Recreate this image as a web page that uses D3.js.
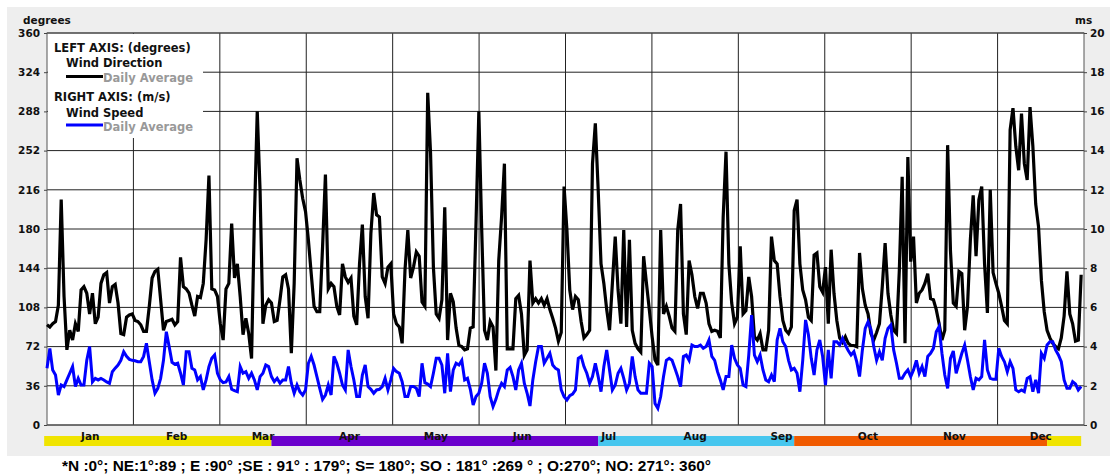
<!DOCTYPE html>
<html>
<head>
<meta charset="utf-8">
<script src="https://d3js.org/d3.v7.min.js"></script>
<style>
  body { margin: 0; background: #fff; }
  text { font-family: "DejaVu Sans", Verdana, sans-serif; font-weight: bold; }
</style>
</head>
<body>
<div id="chart"></div>
<script>
// ---- data ----
const months = ['Jan','Feb','Mar','Apr','May','Jun','Jul','Aug','Sep','Oct','Nov','Dec'];
const dirTicks = [0,36,72,108,144,180,216,252,288,324,360];
const speedTicks = [0,2,4,6,8,10,12,14,16,18,20];

// daily average wind direction (degrees), day 0 = 1 Jan
const direction = [
  92,90,93,95,110,207,118,69,87,78,93,86,124,127,121,102,121,93,99,130,
  138,140,112,127,129,112,84,83,99,101,102,96,95,92,86,86,109,135,141,143,
  115,87,95,96,97,92,95,154,127,125,121,110,100,118,117,130,170,229,125,124,
  118,93,78,125,130,185,135,148,118,83,98,84,61,190,288,215,93,110,115,112,
  95,96,115,136,138,125,66,130,245,225,208,196,170,139,109,104,104,164,230,125,
  130,127,109,101,148,136,131,135,100,92,148,184,118,98,176,213,193,191,136,130,
  145,148,102,93,90,75,142,179,135,145,159,155,113,109,305,250,145,102,98,115,
  200,78,121,113,89,73,72,69,70,89,90,185,288,180,87,78,95,90,50,151,
  191,240,70,70,70,116,119,102,64,69,151,112,116,112,116,110,116,106,98,89,
  77,85,219,179,124,106,118,115,95,80,83,87,240,277,216,148,130,106,87,130,
  173,124,93,179,90,170,87,75,70,67,155,130,106,81,60,55,179,102,109,100,
  89,86,179,203,102,83,151,138,118,107,121,121,112,93,86,87,86,80,191,251,
  148,112,93,99,164,102,105,136,118,81,78,84,69,69,87,173,151,148,118,96,
  87,84,90,197,207,148,124,115,99,96,156,158,127,122,145,93,161,121,96,80,
  76,81,75,73,73,72,158,125,110,102,84,78,85,93,127,167,121,101,87,84,
  142,228,75,246,150,173,112,121,124,130,139,116,115,106,93,78,87,257,160,112,
  109,141,139,87,109,170,211,155,207,219,148,103,216,140,130,121,109,96,93,271,
  291,256,234,286,240,225,292,256,203,182,133,104,87,80,75,72,70,80,100,141,
  102,93,77,78,138
];

// daily average wind speed (m/s)
const speed = [
  2.9,3.9,2.8,2.55,1.53,2.04,1.96,2.3,2.64,2.98,1.96,2.38,2.04,2.04,3.3,4.0,2.2,2.38,2.3,2.38,
  2.3,2.2,2.13,2.72,2.9,3.06,3.3,3.74,3.5,3.35,3.3,3.28,3.23,3.23,3.5,4.17,3.23,2.3,1.62,1.87,
  2.38,3.3,4.76,4.0,3.2,3.1,3.15,2.64,2.04,3.74,3.74,2.89,2.81,2.3,2.47,1.79,2.3,2.98,3.4,3.57,
  2.64,2.3,2.16,2.2,2.47,1.82,1.75,1.7,2.98,2.64,2.72,2.38,2.64,2.3,1.79,2.47,2.64,3.06,2.98,2.47,
  2.21,2.38,2.13,2.3,2.3,2.98,2.13,1.62,2.04,1.7,1.53,1.79,3.15,3.5,3.06,2.47,1.87,1.31,1.53,2.04,
  1.53,3.5,3.15,2.64,2.04,1.79,3.83,2.98,2.3,1.45,1.45,2.55,3.06,1.96,1.82,1.62,1.79,1.82,1.96,2.38,
  1.79,2.3,2.89,2.72,2.64,2.21,1.45,1.45,1.96,1.96,1.87,1.45,3.15,2.16,2.09,1.96,2.64,3.4,3.4,3.06,
  1.62,3.66,1.7,2.81,3.15,3.06,3.3,2.3,2.38,1.82,1.02,1.45,1.62,2.13,3.15,2.64,1.45,0.94,1.31,1.79,
  2.13,1.96,2.81,2.94,2.47,1.79,2.81,3.15,2.13,1.62,0.97,2.3,3.23,4.0,4.0,3.15,3.4,3.66,3.06,2.89,
  2.81,1.79,1.45,1.28,1.5,1.58,1.79,3.4,3.5,2.98,2.64,2.13,2.47,3.15,2.47,1.7,2.98,3.83,2.81,1.79,
  2.04,2.64,2.89,2.38,1.79,2.13,3.5,2.47,1.79,1.62,1.62,1.62,3.15,2.98,1.1,0.85,1.45,2.47,3.3,3.4,
  3.3,2.89,2.47,1.96,3.5,3.57,3.3,4.08,4.0,4.0,4.08,3.91,4.0,4.34,3.5,3.3,2.72,2.3,1.79,2.47,
  2.47,4.08,3.4,3.06,2.89,2.04,1.96,3.57,5.61,3.57,3.23,3.57,2.81,2.3,2.21,2.55,2.21,4.34,4.93,4.25,
  4.0,3.3,2.81,2.89,2.64,1.7,3.3,5.36,4.6,3.4,2.55,3.83,4.34,3.5,2.04,3.83,2.38,4.25,4.25,4.08,
  4.42,4.08,3.8,3.57,3.74,3.23,2.47,3.83,4.93,5.27,4.88,4.0,3.3,3.74,3.3,4.42,4.93,5.1,3.83,3.15,
  2.38,2.38,2.64,2.81,2.47,2.81,3.3,2.64,2.98,2.47,3.5,3.66,3.91,4.76,5.02,3.66,2.55,1.87,3.4,3.78,
  2.64,3.15,3.66,4.08,3.3,2.47,1.79,2.38,2.3,2.47,4.34,2.81,2.38,2.33,2.33,3.91,3.5,3.23,2.72,3.23,
  2.89,1.79,1.7,1.79,1.7,2.38,2.47,1.7,2.3,1.62,3.66,3.4,4.08,4.25,4.25,3.83,3.57,3.23,2.3,1.87,
  1.87,2.21,2.09,1.79,1.96
];

// seasons strip under the axis (day of year)
const seasonStart = [-1, 79, 194, 263, 352];
const seasonEnd   = [79, 194, 263, 352, 364];
const seasonColor = ['#f0e400', '#6a00cc', '#46c6ee', '#f05a00', '#f0e400'];

const footnote = '*N :0°; NE:1°:89 ; E :90° ;SE : 91° : 179°; S= 180°; SO : 181° :269 ° ; O:270°; NO: 271°: 360°';

// ---- drawing ----
const width = 1110, height = 475;
const plot = {left: 47, right: 1084, top: 33, bottom: 425};

const svg = d3.select('#chart').append('svg')
    .attr('width', width)
    .attr('height', height);

svg.append('rect').attr('width', width).attr('height', height).attr('fill', '#fff');
svg.append('rect')
    .attr('x', 7).attr('y', 7)
    .attr('width', width - 7).attr('height', 449)
    .attr('fill', '#eeeeee');

let x = d3.scaleLinear().domain([0, 365]).range([plot.left, plot.right]);
let xm = d3.scaleBand().domain(months).range([plot.left, plot.right]);
let yL = d3.scaleLinear().domain([0, 360]).range([plot.bottom, plot.top]);
let yR = d3.scaleLinear().domain([0, 20]).range([plot.bottom, plot.top]);

svg.append('rect')
    .attr('x', plot.left).attr('y', plot.top)
    .attr('width', plot.right - plot.left).attr('height', plot.bottom - plot.top)
    .attr('fill', '#fff');

// grid
svg.append('g').selectAll('line')
    .data(dirTicks)
    .enter().append('line')
    .attr('x1', plot.left).attr('x2', plot.right)
    .attr('y1', d => yL(d)).attr('y2', d => yL(d))
    .attr('stroke', '#222').attr('stroke-width', 1);

svg.append('g').selectAll('line')
    .data(months.slice(1))
    .enter().append('line')
    .attr('x1', d => xm(d)).attr('x2', d => xm(d))
    .attr('y1', plot.top).attr('y2', plot.bottom)
    .attr('stroke', '#222').attr('stroke-width', 1);

svg.append('rect')
    .attr('x', plot.left).attr('y', plot.top)
    .attr('width', plot.right - plot.left).attr('height', plot.bottom - plot.top)
    .attr('fill', 'none').attr('stroke', '#555');

// axes
let yAxisL = d3.axisLeft(yL).tickValues(dirTicks).tickSize(3).tickPadding(4);
let yAxisR = d3.axisRight(yR).tickValues(speedTicks).tickSize(3).tickPadding(3);

const gl = svg.append('g').attr('transform', `translate(${plot.left},0)`).call(yAxisL);
const gr = svg.append('g').attr('transform', `translate(${plot.right},0)`).call(yAxisR);
[gl, gr].forEach(g => {
  g.select('.domain').remove();
  g.selectAll('line').attr('stroke', '#444');
  g.selectAll('text')
    .attr('fill', '#111')
    .style('font-size', '10.5px')
    .style('font-family', '"DejaVu Sans", Verdana, sans-serif')
    .style('font-weight', 'bold');
});

svg.append('text').attr('x', 23).attr('y', 24)
    .style('font-size', '10.5px').attr('fill', '#111').text('degrees');
svg.append('text').attr('x', 1075).attr('y', 24)
    .style('font-size', '10.5px').attr('fill', '#111').text('ms');

// legend
const lg = svg.append('g');
lg.append('rect').attr('x', 48).attr('y', 34).attr('width', 155).attr('height', 104).attr('fill', '#fff');
lg.append('text').attr('x', 54).attr('y', 52).style('font-size', '11.5px').attr('fill', '#111').text('LEFT AXIS: (degrees)');
lg.append('text').attr('x', 66).attr('y', 67).style('font-size', '11.5px').attr('fill', '#111').text('Wind Direction');
lg.append('line').attr('x1', 66).attr('x2', 103).attr('y1', 76.5).attr('y2', 76.5).attr('stroke', '#000').attr('stroke-width', 3);
lg.append('text').attr('x', 103).attr('y', 82).style('font-size', '11.5px').attr('fill', '#999').text('Daily Average');
lg.append('text').attr('x', 54).attr('y', 101).style('font-size', '11.5px').attr('fill', '#111').text('RIGHT AXIS: (m/s)');
lg.append('text').attr('x', 66).attr('y', 116.5).style('font-size', '11.5px').attr('fill', '#111').text('Wind Speed');
lg.append('line').attr('x1', 66).attr('x2', 103).attr('y1', 125).attr('y2', 125).attr('stroke', '#0000ff').attr('stroke-width', 3);
lg.append('text').attr('x', 103).attr('y', 130.5).style('font-size', '11.5px').attr('fill', '#999').text('Daily Average');

// series
let dirLine = d3.line().x((d, i) => x(i)).y(d => yL(d));
let spdLine = d3.line().x((d, i) => x(i)).y(d => yR(d));

svg.append('path')
    .datum(direction)
    .attr('d', dirLine)
    .attr('fill', 'none')
    .attr('stroke', '#000')
    .attr('stroke-width', 3.2);

svg.append('path')
    .datum(speed)
    .attr('d', spdLine)
    .attr('fill', 'none')
    .attr('stroke', '#0000ff')
    .attr('stroke-width', 3);

// seasons strip + month labels
svg.append('g').selectAll('rect')
    .data(seasonStart)
    .enter().append('rect')
    .attr('x', (d, i) => x(d))
    .attr('width', (d, i) => x(seasonEnd[i]) - x(d))
    .attr('y', 436).attr('height', 10)
    .attr('fill', (d, i) => seasonColor[i]);

svg.append('g').selectAll('text')
    .data(months)
    .enter().append('text')
    .attr('x', d => xm(d) + xm.bandwidth() / 2)
    .attr('y', 440)
    .attr('text-anchor', 'middle')
    .style('font-size', '10.5px')
    .attr('fill', '#111')
    .text(d => d);

svg.append('text')
    .attr('x', 62).attr('y', 471)
    .attr('textLength', 649).attr('lengthAdjust', 'spacingAndGlyphs')
    .style('font-family', '"Liberation Sans", Arial, sans-serif')
    .style('font-size', '14px')
    .attr('fill', '#000')
    .text(footnote);
</script>
</body>
</html>
